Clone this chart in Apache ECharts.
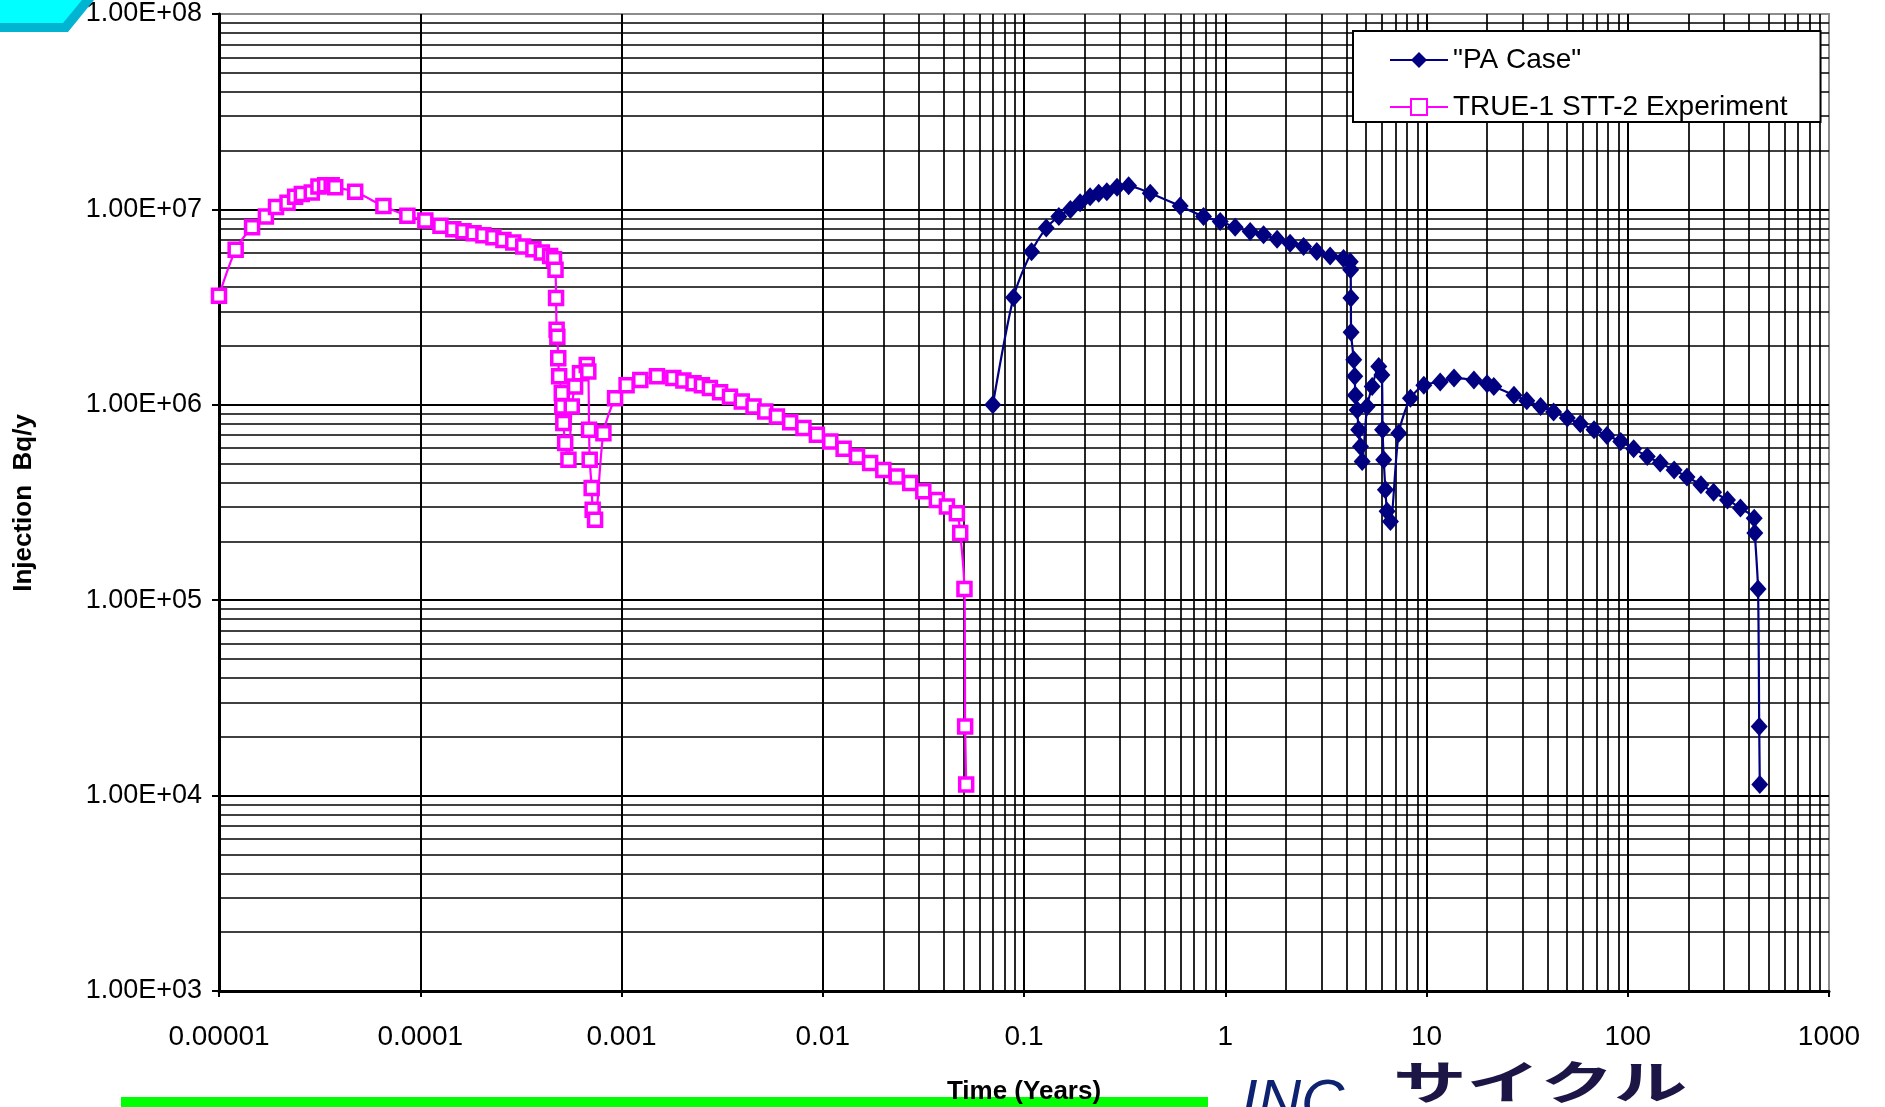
<!DOCTYPE html>
<html><head><meta charset="utf-8">
<script src="https://cdn.jsdelivr.net/npm/echarts@6/dist/echarts.min.js"></script>
<style>html,body{margin:0;padding:0;background:#fff}#c{width:1885px;height:1107px}</style>
</head><body><div id="c"></div>
<script>
const xTickLabels = ['0.00001','0.0001','0.001','0.01','0.1','1','10','100','1000'];
const yTickLabels = ['1.00E+03','1.00E+04','1.00E+05','1.00E+06','1.00E+07','1.00E+08'];
const seriesNames = ['"PA Case"', 'TRUE-1 STT-2 Experiment'];
const xAxisTitle = 'Time (Years)';
const yAxisTitle = 'Injection  Bq/y';

const paTime = [0.070,0.0887,0.109,0.129,0.149,0.170,0.190,0.213,0.235,0.258,0.290,0.331,0.424,0.597,0.780,0.944,1.12,1.33,1.55,1.81,2.10,2.45,2.85,3.32,3.87,4.18,4.20,4.21,4.22,4.35,4.40,4.43,4.52,4.60,4.70,4.79,5.07,5.37,5.79,6.00,6.05,6.13,6.25,6.37,6.62,7.28,8.32,9.70,11.7,13.7,17.2,20.0,21.6,27.2,31.5,36.9,42.8,50.1,58.1,68.0,78.8,92.3,107,125,145,170,197,231,267,313,363,425,428,444,450,453];
const paValue = [1.0e6,3.54e6,6.08e6,8.02e6,9.2e6,1.0e7,1.08e7,1.16e7,1.21e7,1.23e7,1.30e7,1.32e7,1.21e7,1.04e7,9.2e6,8.67e6,8.1e6,7.7e6,7.41e6,7.04e6,6.72e6,6.46e6,6.09e6,5.78e6,5.6e6,5.4e6,4.91e6,3.52e6,2.35e6,1.70e6,1.40e6,1.12e6,9.4e5,7.45e5,6.12e5,5.13e5,9.8e5,1.24e6,1.57e6,1.42e6,7.45e5,5.24e5,3.67e5,2.85e5,2.53e5,7.16e5,1.08e6,1.26e6,1.31e6,1.37e6,1.34e6,1.28e6,1.24e6,1.12e6,1.05e6,9.8e5,9.18e5,8.55e5,8.0e5,7.45e5,6.97e5,6.49e5,5.96e5,5.44e5,5.04e5,4.64e5,4.27e5,3.90e5,3.57e5,3.26e5,2.96e5,2.63e5,2.21e5,1.14e5,2.26e4,1.14e4];

const stTime = [1.00e-5,1.21e-5,1.46e-5,1.71e-5,1.92e-5,2.19e-5,2.39e-5,2.58e-5,2.89e-5,3.12e-5,3.37e-5,3.63e-5,3.78e-5,4.75e-5,6.56e-5,8.63e-5,1.06e-4,1.26e-4,1.46e-4,1.64e-4,1.84e-4,2.06e-4,2.31e-4,2.59e-4,2.90e-4,3.25e-4,3.65e-4,4.02e-4,4.42e-4,4.62e-4,4.70e-4,4.73e-4,4.76e-4,4.80e-4,4.85e-4,4.90e-4,5.05e-4,5.08e-4,5.14e-4,5.25e-4,5.45e-4,5.66e-4,5.88e-4,6.22e-4,6.72e-4,6.84e-4,6.90e-4,6.95e-4,7.11e-4,7.19e-4,7.39e-4,8.13e-4,9.29e-4,1.06e-3,1.24e-3,1.50e-3,1.81e-3,2.03e-3,2.28e-3,2.51e-3,2.75e-3,3.09e-3,3.46e-3,3.96e-3,4.53e-3,5.18e-3,5.92e-3,6.89e-3,8.02e-3,9.35e-3,1.09e-2,1.27e-2,1.48e-2,1.72e-2,2.00e-2,2.33e-2,2.72e-2,3.16e-2,3.69e-2,4.14e-2,4.64e-2,4.82e-2,5.06e-2,5.10e-2,5.16e-2];
const stValue = [3.62e6,6.21e6,8.1e6,9.2e6,1.03e7,1.08e7,1.16e7,1.2e7,1.22e7,1.31e7,1.33e7,1.33e7,1.30e7,1.23e7,1.04e7,9.27e6,8.77e6,8.24e6,7.92e6,7.73e6,7.55e6,7.38e6,7.21e6,6.98e6,6.77e6,6.45e6,6.25e6,6.01e6,5.78e6,5.56e6,4.91e6,3.52e6,2.42e6,2.23e6,1.73e6,1.40e6,1.15e6,9.8e5,8.06e5,6.37e5,5.24e5,9.8e5,1.24e6,1.45e6,1.6e6,1.48e6,7.45e5,5.24e5,3.75e5,2.9e5,2.58e5,7.16e5,1.08e6,1.26e6,1.34e6,1.40e6,1.37e6,1.33e6,1.29e6,1.26e6,1.22e6,1.16e6,1.10e6,1.04e6,9.8e5,9.25e5,8.7e5,8.15e5,7.6e5,7.03e5,6.49e5,5.96e5,5.44e5,5.04e5,4.64e5,4.30e5,3.98e5,3.61e5,3.26e5,3.02e5,2.79e5,2.21e5,1.14e5,2.26e4,1.14e4];

// minor log grid values (2..9 within each decade)
function minorValues(fromExp, toExp) {
  const out = [];
  for (let e = fromExp; e < toExp; e++) {
    for (let k = 2; k <= 9; k++) out.push(Number((k * Math.pow(10, e)).toPrecision(3)));
  }
  return out;
}
const xMinor = minorValues(-5, 3);
const yMinor = minorValues(3, 8);

const chart = echarts.init(document.getElementById('c'), null, {renderer: 'canvas'});
const FONT = '"Liberation Sans", Arial, sans-serif';

chart.setOption({
  animation: false,
  backgroundColor: '#fff',
  grid: {left: 219, top: 14, width: 1610, height: 977, show: true, borderColor: '#8c8c8c', borderWidth: 2, containLabel: false},
  xAxis: {
    type: 'log', logBase: 10, min: 1e-5, max: 1000, splitNumber: 8,
    axisLine: {show: true, onZero: false, lineStyle: {color: '#000', width: 3}},
    axisTick: {show: true, inside: false, length: 6, lineStyle: {color: '#000', width: 2}},
    axisLabel: {fontFamily: FONT, fontSize: 28, color: '#000', margin: 32,
      formatter: v => xTickLabels[Math.round(Math.log10(v)) + 5]},
    splitLine: {show: true, showMaxLine: false, lineStyle: {color: '#000', width: 2}},
    minorTick: {show: false}, minorSplitLine: {show: false}
  },
  yAxis: {
    type: 'log', logBase: 10, min: 1e3, max: 1e8, splitNumber: 5,
    axisLine: {show: true, onZero: false, lineStyle: {color: '#000', width: 3}},
    axisTick: {show: true, inside: false, length: 7, lineStyle: {color: '#000', width: 2}},
    axisLabel: {fontFamily: FONT, fontSize: 27, color: '#000', margin: 17,
      formatter: v => yTickLabels[Math.round(Math.log10(v)) - 3]},
    splitLine: {show: true, showMaxLine: false, lineStyle: {color: '#000', width: 2}},
    minorTick: {show: false}, minorSplitLine: {show: false}
  },
  legend: {
    data: seriesNames, orient: 'vertical', left: 1353, top: 31,
    padding: [15, 33, 1, 36], itemGap: 19, itemWidth: 58, itemHeight: 20,
    backgroundColor: '#fff', borderColor: '#000', borderWidth: 2, borderRadius: 0,
    textStyle: {fontFamily: FONT, fontSize: 28, color: '#000', lineHeight: 26},
    selectedMode: false, z: 10
  },
  series: [
    {
      name: 'grid-minor', type: 'line', data: [], silent: true, z: 1,
      markLine: {
        silent: true, symbol: ['none', 'none'], animation: false,
        label: {show: false},
        lineStyle: {color: '#000', width: 1.7, type: 'solid'},
        emphasis: {disabled: true},
        data: xMinor.map(v => ({xAxis: v})).concat(yMinor.map(v => ({yAxis: v})))
      }
    },
    {
      name: seriesNames[0], type: 'line', z: 5,
      data: paTime.map((t, i) => [t, paValue[i]]),
      symbol: 'diamond', symbolSize: [17, 19], smooth: 0.25,
      lineStyle: {color: '#000080', width: 2.2},
      itemStyle: {color: '#000080'}
    },
    {
      name: seriesNames[1], type: 'line', z: 5,
      data: stTime.map((t, i) => [t, stValue[i]]),
      symbol: 'rect', symbolSize: 13, smooth: 0.25,
      lineStyle: {color: '#FF00FF', width: 2.2},
      itemStyle: {color: '#ffffff', borderColor: '#FF00FF', borderWidth: 3.5}
    }
  ],
  graphic: [
    {type: 'polygon', z: 20, shape: {points: [[0,0],[94,0],[68,32],[0,32]]}, style: {fill: '#00B4D2'}},
    {type: 'polygon', z: 21, shape: {points: [[0,0],[82,0],[63,23],[0,23]]}, style: {fill: '#00FFFF'}},
    {type: 'rect', z: 20, shape: {x: 121, y: 1097, width: 1087, height: 10}, style: {fill: '#00FF00'}},
    {type: 'text', z: 22, x: 24, y: 503, rotation: Math.PI / 2,
      style: {text: yAxisTitle, font: 'bold 26px ' + FONT, fill: '#000', align: 'center', verticalAlign: 'middle', textAlign: 'center', textVerticalAlign: 'middle'}},
    {type: 'text', z: 22, x: 1024, y: 1092,
      style: {text: xAxisTitle, font: 'bold 26px ' + FONT, fill: '#000', align: 'center', verticalAlign: 'middle', textAlign: 'center', textVerticalAlign: 'middle'}},
    {type: 'text', z: 22, x: 1241, y: 1074,
      style: {text: 'INC', font: 'italic 60px ' + FONT, fill: '#0d2270', align: 'left', verticalAlign: 'top', textAlign: 'left', textVerticalAlign: 'top'}},
    {type: 'text', z: 22, x: 1393, y: 1082, scaleX: 1.6,
      style: {text: 'サイクル', font: 'bold 46px "Noto Sans CJK JP"', fill: '#1b1646', align: 'left', verticalAlign: 'middle', textAlign: 'left', textVerticalAlign: 'middle'}}
  ]
});
</script>
</body></html>
